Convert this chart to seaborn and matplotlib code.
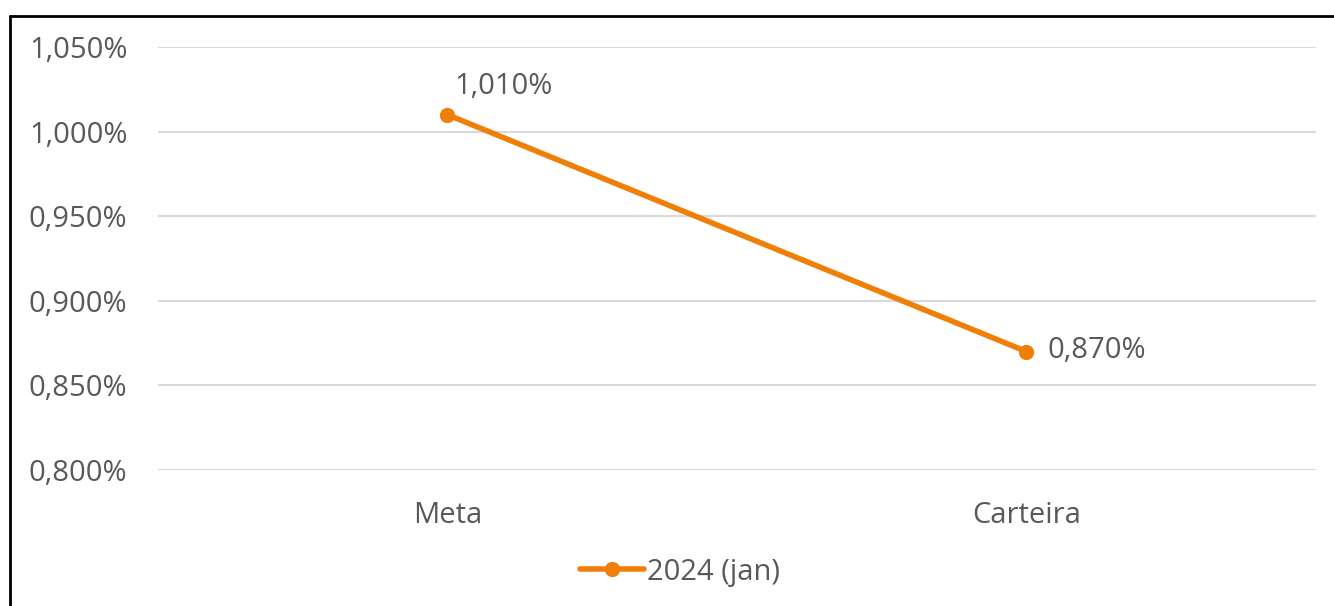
import pandas as pd
import matplotlib.pyplot as plt
import matplotlib.ticker as mticker
from matplotlib.lines import Line2D
import seaborn as sns

# dados
categorias = ['Meta', 'Carteira']
valores = [1.010, 0.870]
serie = '2024 (jan)'
yticks = [0.800, 0.850, 0.900, 0.950, 1.000, 1.050]

df = pd.DataFrame({'categoria': categorias, 'valor': valores})

sns.set_theme(style='white')
plt.rcParams['font.family'] = ['Open Sans', 'DejaVu Sans']

laranja = '#F07F09'
cinza = '#595959'
fs = 21

fig = plt.figure(figsize=(13.34, 6.06), dpi=100)
ax = fig.add_axes([0.1184, 0.2244, 0.8681, 0.698])

sns.lineplot(data=df, x='categoria', y='valor', ax=ax, color=laranja,
             linewidth=4, marker='o', markersize=11, markeredgewidth=0,
             sort=False)

ax.set_xlim(-0.5, 1.5)
ax.set_ylim(0.800, 1.050)
ax.set_yticks(yticks)
ax.yaxis.set_major_formatter(mticker.FuncFormatter(
    lambda v, p: f'{v:.3f}%'.replace('.', ',')))
ax.grid(axis='y', color='#D9D9D9', linewidth=1.5)
ax.set_axisbelow(True)
for s in ax.spines.values():
    s.set_visible(False)
ax.tick_params(axis='both', length=0, labelsize=fs, labelcolor=cinza)
ax.tick_params(axis='y', pad=22)
ax.tick_params(axis='x', pad=22)
ax.set_xlabel('')
ax.set_ylabel('')

# rótulos de dados
ax.annotate(f'{valores[0]:.3f}%'.replace('.', ','), (0, valores[0]),
            xytext=(5, 20), textcoords='offset points', fontsize=fs,
            color=cinza, ha='left', va='center')
ax.annotate(f'{valores[1]:.3f}%'.replace('.', ','), (1, valores[1]),
            xytext=(15, 1), textcoords='offset points', fontsize=fs,
            color=cinza, ha='left', va='center')

handle = Line2D([], [], color=laranja, linewidth=4, marker='o',
                markersize=11, markeredgewidth=0)
fig.legend([handle], [serie], loc='center', bbox_to_anchor=(0.51, 0.056),
           frameon=False, fontsize=fs, labelcolor=cinza, handlelength=2.2,
           handletextpad=0.1)

# borda do gráfico
fig.add_artist(Line2D([10 / 1334, 10 / 1334], [0, 1 - 16 / 606],
                      transform=fig.transFigure, color='black', linewidth=2))
fig.add_artist(Line2D([10 / 1334, 1], [1 - 16 / 606, 1 - 16 / 606],
                      transform=fig.transFigure, color='black', linewidth=2))

fig.savefig('out.png', dpi=100, facecolor='white')
